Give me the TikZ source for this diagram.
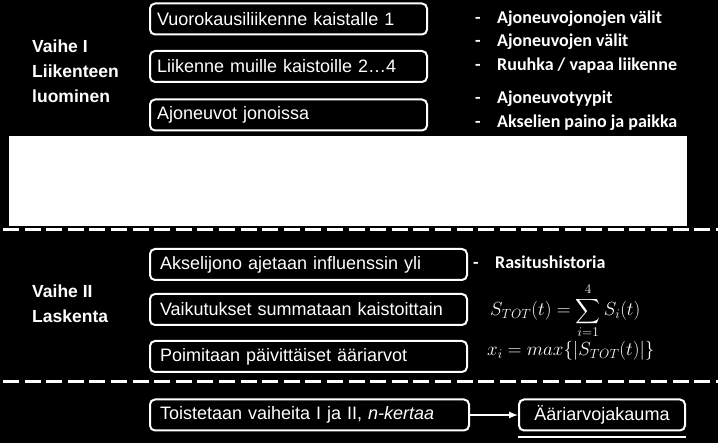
\documentclass[tikz,border=0pt]{standalone}
\usepackage{fix-cm}
\usepackage{amsmath}
\usepackage{fontspec}
\setmainfont{Liberation Sans}
\newfontfamily\carlito{Carlito}
\usetikzlibrary{arrows,positioning}

\tikzset{
  stagebox/.style={draw=white, line width=2pt, rounded corners=5pt, text=white,
    font=\fontsize{18}{20}\selectfont, minimum height=31pt, anchor=west, align=left},
  phase/.style={text=white, font=\bfseries\fontsize{17.5}{25}\selectfont,
    anchor=west, align=left, inner sep=0pt},
  note/.style={text=white, font=\carlito\bfseries\fontsize{18}{20}\selectfont,
    anchor=base west, inner sep=0pt},
  formula/.style={text=white, font=\fontsize{19}{22}\selectfont,
    anchor=base west, inner sep=0pt},
  dashline/.style={white, line width=3pt, dash pattern=on 16pt off 5.6pt}
}
\newcommand{\dashitem}[1]{\makebox[22pt][l]{-}#1}

\begin{document}
\begin{tikzpicture}[x=1pt,y=-1pt]

\fill[black] (0,0) rectangle (718,443);
\useasboundingbox (0,0) rectangle (718,443);

% Vaihe I
\node[phase] (vaihe1) at (32,71) {Vaihe I\\Liikenteen\\luominen};

\node[stagebox, text width=263pt, inner xsep=7pt] (vuoro) at (149,19) {Vuorokausiliikenne kaistalle 1};
\node[stagebox, text width=263pt, inner xsep=7pt] (muut) at (149,66.5) {Liikenne muille kaistoille 2\ldots4};
\node[stagebox, text width=263pt, inner xsep=7pt] (jono) at (149,115) {Ajoneuvot jonoissa};

\node[note] (b1) at (475,24) {\dashitem{Ajoneuvojonojen välit}};
\node[note] (b2) at (475,47) {\dashitem{Ajoneuvojen välit}};
\node[note] (b3) at (475,71) {\dashitem{Ruuhka / vapaa liikenne}};
\node[note] (b4) at (475,104) {\dashitem{Ajoneuvotyypit}};
\node[note] (b5) at (475,128) {\dashitem{Akselien paino ja paikka}};

% white band
\fill[white] (8.5,136) rectangle (687,226);

\draw[dashline] (3,230) -- (718,230);

% Vaihe II
\node[phase] (vaihe2) at (32,304) {Vaihe II\\Laskenta};

\node[stagebox, text width=297pt, inner xsep=10pt] (aks) at (149,264.5) {Akselijono ajetaan influenssin yli};
\node[stagebox, text width=297pt, inner xsep=10pt] (summa) at (149,309.5) {Vaikutukset summataan kaistoittain};
\node[stagebox, text width=297pt, inner xsep=10pt] (poim) at (149,356.5) {Poimitaan päivittäiset ääriarvot};

\node[note] (rasitus) at (473,269) {\dashitem{Rasitushistoria}};
\node[formula] (stot) at (490,316) {$S_{TOT}(t)=\displaystyle\sum_{i=1}^{4}S_i(t)$};
\node[formula] (xmax) at (487,356) {$x_i=max\{|S_{TOT}(t)|\}$};

\draw[dashline] (3,382) -- (718,382);

% Toisto
\node[stagebox, text width=299pt, inner xsep=10pt] (toisto) at (149,415) {Toistetaan vaiheita I ja II, \textit{n-kertaa}};
\node[stagebox, minimum width=166pt, align=center] (jakauma) at (518,415) {Ääriarvojakauma};

\draw[white, line width=2pt, -latex] (toisto) -- (jakauma);
\draw[white, line width=2pt] ([yshift=-6pt]jakauma.south west) -- ([yshift=-6pt]jakauma.south east);

\end{tikzpicture}
\end{document}
